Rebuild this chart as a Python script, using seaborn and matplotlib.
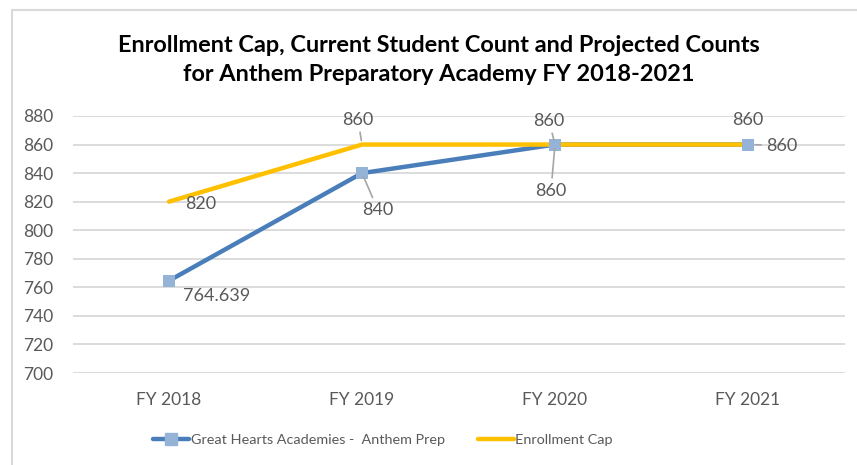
import matplotlib
matplotlib.use("Agg")
import matplotlib.pyplot as plt
from matplotlib.lines import Line2D
import seaborn as sns
import pandas as pd

# ---- data ----
years = ["FY 2018", "FY 2019", "FY 2020", "FY 2021"]
students = [764.639, 840, 860, 860]
enroll_cap = [820, 860, 860, 860]
student_labels = ["764.639", "840", "860", "860"]
cap_labels = ["820", "860", "860", "860"]
series_names = ["Great Hearts Academies -  Anthem Prep", "Enrollment Cap"]
title = "Enrollment Cap, Current Student Count and Projected Counts\nfor Anthem Preparatory Academy FY 2018-2021"
y_ticks = [700, 720, 740, 760, 780, 800, 820, 840, 860, 880]

sns.set_theme(style="white")
plt.rcParams["font.family"] = ["Lato", "DejaVu Sans"]

BLUE = "#4A7EBB"
BLUE_MK = "#95B3D7"
GOLD = "#FFC000"
GRAY_TXT = "#595959"
GRID = "#D9D9D9"
LEADER = "#A6A6A6"

fig = plt.figure(figsize=(8.57, 4.65), dpi=100)
W, H = 857, 465
ax = fig.add_axes([72.5 / W, 1 - 373 / H, (844.5 - 72.5) / W, (373 - 116) / H])

df_s = pd.DataFrame({"year": years, "value": students})
df_c = pd.DataFrame({"year": years, "value": enroll_cap})

# blue line, then gold line on top, then blue markers on top of everything
sns.lineplot(data=df_s, x="year", y="value", ax=ax, color=BLUE, lw=3.2,
             sort=False, zorder=3)
sns.lineplot(data=df_c, x="year", y="value", ax=ax, color=GOLD, lw=3.2,
             sort=False, zorder=4)
sns.scatterplot(data=df_s, x="year", y="value", ax=ax, marker="s", s=75,
                color=BLUE_MK, edgecolor=BLUE_MK, linewidth=0, zorder=5)

ax.set_xlim(-0.5, len(years) - 0.5)
ax.set_ylim(y_ticks[0], y_ticks[-1])
ax.set_yticks(y_ticks)
ax.set_xlabel("")
ax.set_ylabel("")
ax.grid(axis="y", color=GRID, lw=1.3)
ax.set_axisbelow(True)
for s in ax.spines.values():
    s.set_visible(False)
ax.tick_params(axis="both", length=0, labelsize=12.5, colors=GRAY_TXT)
ax.tick_params(axis="y", pad=14)
ax.tick_params(axis="x", pad=14)

# ---- data labels (offsets in pixels) ----
lab_kw = dict(textcoords="offset pixels", fontsize=13, color=GRAY_TXT, zorder=6)
arrow = dict(arrowstyle="-", color=LEADER, lw=1.2, shrinkA=1, shrinkB=3)

# blue series
ax.annotate(student_labels[0], (0, students[0]), xytext=(14, -15), ha="left", va="center", **lab_kw)
ax.annotate(student_labels[1], (1, students[1]), xytext=(16, -37), ha="center", va="center",
            arrowprops=arrow, **lab_kw)
ax.annotate(student_labels[2], (2, students[2]), xytext=(-4, -46), ha="center", va="center",
            arrowprops=arrow, **lab_kw)
ax.annotate(student_labels[3], (3, students[3]), xytext=(18, -1), ha="left", va="center",
            arrowprops=dict(arrowstyle="-", color=LEADER, lw=1.2, shrinkA=1, shrinkB=5), **lab_kw)

# cap series
ax.annotate(cap_labels[0], (0, enroll_cap[0]), xytext=(16, -2), ha="left", va="center", **lab_kw)
ax.annotate(cap_labels[1], (1, enroll_cap[1]), xytext=(-4, 25), ha="center", va="center",
            arrowprops=arrow, **lab_kw)
ax.annotate(cap_labels[2], (2, enroll_cap[2]), xytext=(-6, 24), ha="center", va="center",
            arrowprops=arrow, **lab_kw)
ax.annotate(cap_labels[3], (3, enroll_cap[3]), xytext=(0, 25), ha="center", va="center", **lab_kw)

# ---- title ----
fig.text(439 / W, 1 - 60 / H, title, ha="center", va="center", fontsize=16.9,
         fontweight="bold", color="#000000", linespacing=1.45)

# ---- legend ----
handles = [
    Line2D([], [], color=BLUE, lw=3.2, marker="s", markersize=8,
           markerfacecolor=BLUE_MK, markeredgecolor=BLUE_MK),
    Line2D([], [], color=GOLD, lw=3.2),
]
fig.legend(handles, series_names, loc="center", bbox_to_anchor=(383 / W, 1 - 440 / H),
           ncol=2, frameon=False, fontsize=10.4, handlelength=2.5, handletextpad=0.1,
           columnspacing=2.3, labelcolor=GRAY_TXT)

# ---- chart border (top and left visible) ----
fig.add_artist(Line2D([12 / W, 1.0], [1 - 10 / H, 1 - 10 / H], color=GRID, lw=1.5,
                      transform=fig.transFigure))
fig.add_artist(Line2D([12 / W, 12 / W], [0, 1 - 10 / H], color=GRID, lw=1.5,
                      transform=fig.transFigure))

fig.savefig("out.png", dpi=100)
